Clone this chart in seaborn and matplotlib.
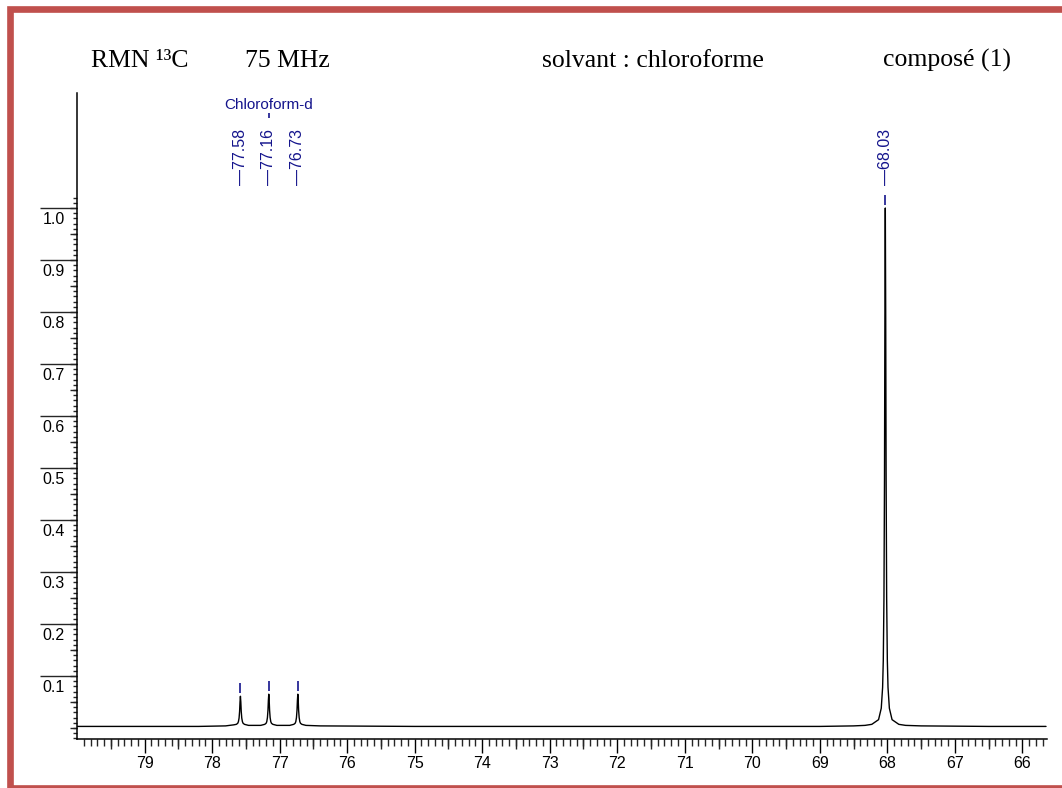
import numpy as np
import pandas as pd
import seaborn as sns
import matplotlib.pyplot as plt
import matplotlib.transforms as mtransforms
from matplotlib.patches import Rectangle

# spectrum trace (ppm, relative intensity)
spectrum_ppm = [
    80.0, 79.0, 78.2, 77.80, 77.68, 77.64, 77.62, 77.61, 77.60, 77.592, 77.586,
    77.58, 77.574, 77.568, 77.56, 77.55, 77.54, 77.52, 77.46, 77.37, 77.28,
    77.22, 77.20, 77.19, 77.18, 77.172, 77.166, 77.16, 77.154, 77.148, 77.14,
    77.13, 77.12, 77.10, 77.04, 76.94, 76.85, 76.79, 76.77, 76.76, 76.75,
    76.742, 76.736, 76.73, 76.724, 76.718, 76.71, 76.70, 76.69, 76.67, 76.61,
    76.4, 75.0, 72.0, 69.0, 68.5, 68.33, 68.23, 68.13, 68.09, 68.07, 68.06,
    68.05, 68.042, 68.036, 68.03, 68.024, 68.018, 68.01, 68.0, 67.99, 67.97,
    67.93, 67.83, 67.73, 67.5, 66.5, 65.65,
]
spectrum_int = [
    0.003, 0.003, 0.003, 0.004, 0.006, 0.007, 0.009, 0.012, 0.019, 0.032, 0.050,
    0.061, 0.050, 0.032, 0.019, 0.012, 0.009, 0.007, 0.005, 0.005, 0.005,
    0.007, 0.009, 0.012, 0.020, 0.034, 0.053, 0.065, 0.053, 0.034, 0.020,
    0.012, 0.009, 0.007, 0.005, 0.005, 0.005, 0.007, 0.009, 0.012, 0.020,
    0.034, 0.053, 0.065, 0.053, 0.034, 0.020, 0.012, 0.009, 0.007, 0.005,
    0.004, 0.003, 0.003, 0.003, 0.004, 0.005, 0.007, 0.016, 0.038, 0.078, 0.13,
    0.25, 0.48, 0.79, 1.0, 0.79, 0.48, 0.25, 0.13, 0.078, 0.038,
    0.016, 0.007, 0.005, 0.004, 0.003, 0.003,
]

# picked peaks
peak_ppm = [77.58, 77.16, 76.73, 68.03]
peak_height = [0.061, 0.065, 0.065, 1.0]
peak_labels = ["77.58", "77.16", "76.73", "68.03"]

solvent_name = "Chloroform-d"
solvent_ppm = 77.16

header = ["RMN \u00b9\u00b3C", "75 MHz", "solvant : chloroforme", "composé (1)"]
header_x = [91, 245, 542, 883]

y_labels = [0.1, 0.2, 0.3, 0.4, 0.5, 0.6, 0.7, 0.8, 0.9, 1.0]
x_labels = [79, 78, 77, 76, 75, 74, 73, 72, 71, 70, 69, 68, 67, 66]

blue = "#14148c"
W, H = 1062, 788

sns.set_theme(style="white")
plt.rcParams["font.family"] = ["Liberation Sans", "DejaVu Sans"]

fig = plt.figure(figsize=(W / 100, H / 100), dpi=100)
ax = fig.add_axes([77 / W, 1 - 739 / H, (1046.7 - 77) / W, (739 - 93) / H])

df = pd.DataFrame({"ppm": spectrum_ppm, "intensity": spectrum_int})
sns.lineplot(data=df, x="ppm", y="intensity", ax=ax, color="black",
             lw=1.0, estimator=None, sort=False)

ax.set_xlim(80.0, 65.64)
ax.set_ylim(-0.0212, 1.2212)
ax.set_xlabel("")
ax.set_ylabel("")
for s in ["top", "right"]:
    ax.spines[s].set_visible(False)
for s in ["left", "bottom"]:
    ax.spines[s].set_linewidth(1.1)
    ax.spines[s].set_color("black")

# x ticks: integers labelled, tenths minor, halves medium
ax.set_xticks(x_labels)
ax.set_xticklabels([str(v) for v in x_labels], fontsize=11.5)
ax.set_xticks(np.round(np.arange(65.7, 80.0, 0.1), 1), minor=True)
ax.tick_params(axis="x", which="major", direction="out", length=10, width=1.0,
               pad=2, colors="black", bottom=True)
ax.tick_params(axis="x", which="minor", direction="out", length=5, width=1.0,
               bottom=True)
secx = ax.secondary_xaxis("bottom")
secx.set_xticks(np.arange(65.5, 80.0, 1.0))
secx.set_xticklabels([])
secx.tick_params(direction="out", length=7, width=1.0)
secx.spines["bottom"].set_visible(False)

# y ticks: long major lines, labels drawn just under them
ax.set_yticks(y_labels)
ax.set_yticklabels([])
ax.set_yticks(np.round(np.arange(-0.02, 1.025, 0.01), 2), minor=True)
ax.tick_params(axis="y", which="major", direction="out", length=26.5, width=1.0,
               left=True)
ax.tick_params(axis="y", which="minor", direction="out", length=3, width=1.0,
               left=True)
secy = ax.secondary_yaxis("left")
secy.set_yticks(np.round(np.arange(0.0, 1.01, 0.1), 2).tolist()
                + np.round(np.arange(0.05, 1.0, 0.1), 2).tolist())
secy.set_yticklabels([])
secy.tick_params(direction="out", length=5, width=1.0)
secy.spines["left"].set_visible(False)

ytrans = mtransforms.blended_transform_factory(ax.transAxes, ax.transData)
for v in y_labels:
    ax.text(-0.0125, v - 0.007, f"{v:.1f}", transform=ytrans, ha="right",
            va="top", fontsize=11.5, color="black")

# peak picking marks and labels
for p, h, lab in zip(peak_ppm, peak_height, peak_labels):
    ax.vlines(p, h + 0.006, h + 0.025, color=blue, lw=1.2)
    ax.text(p, 1.044, "\u2014" + lab, rotation=90, ha="center", va="bottom",
            fontsize=11.5, color=blue)
ax.vlines(solvent_ppm, 1.173, 1.183, color=blue, lw=1.2)
ax.text(solvent_ppm, 1.198, solvent_name, ha="center", va="center",
        fontsize=11, color=blue)

# header line
for txt, x in zip(header, header_x):
    fig.text(x / W, 1 - 67 / H, txt, ha="left", va="baseline", fontsize=18.5,
             family=["Liberation Serif", "DejaVu Serif"], color="black")

# red frame
fig.add_artist(Rectangle((10 / W, 0.0), (1075 - 10) / W, 1 - 8.5 / H,
                         transform=fig.transFigure, fill=False,
                         edgecolor="#c0504d", lw=4.8, clip_on=False))

fig.savefig("out.png", dpi=100)
